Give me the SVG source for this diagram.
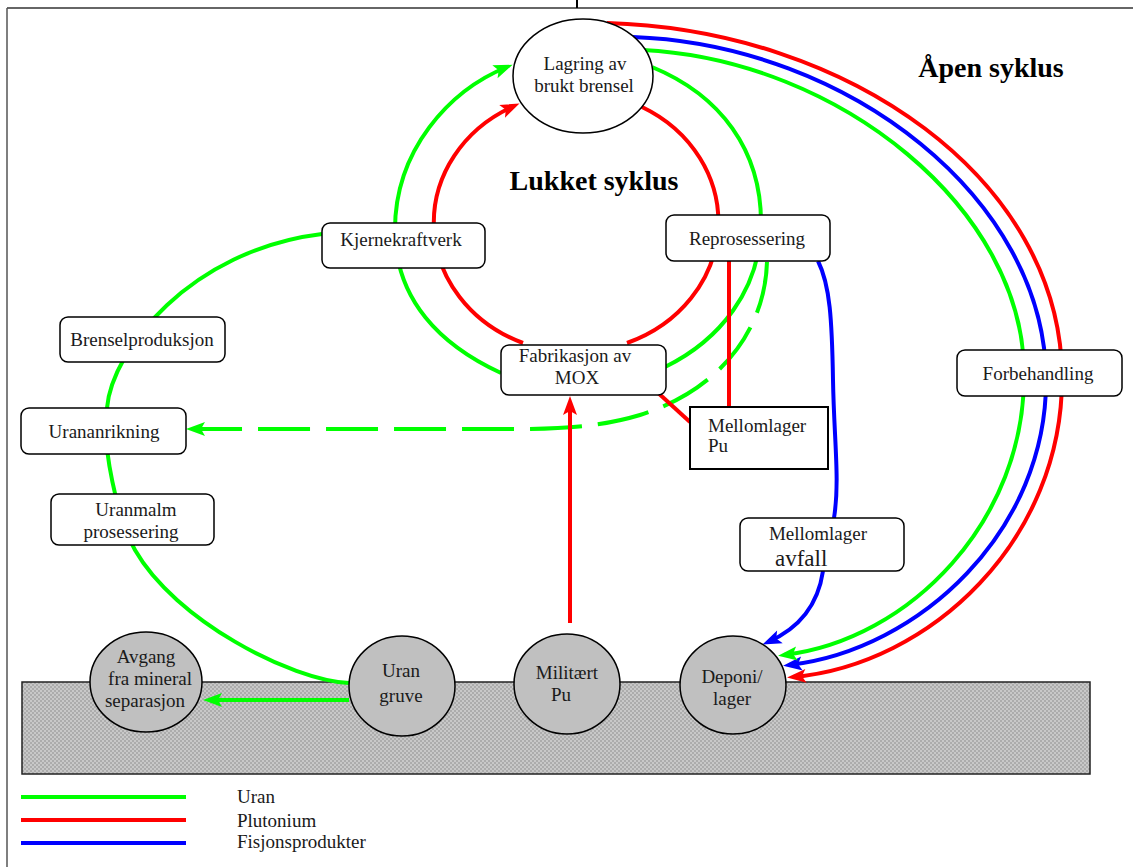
<svg xmlns="http://www.w3.org/2000/svg" width="1133" height="867" viewBox="0 0 1133 867">
<style>
  .lbl { font-family: "Liberation Serif", "Times New Roman", serif; font-size: 19px; fill: #1a1a1a; }
  .mid { text-anchor: middle; }
  .title { font-family: "Liberation Serif", "Times New Roman", serif; font-size: 28px; font-weight: bold; fill: #000; text-anchor: middle; }
  .box { fill: #fff; stroke: #000; stroke-width: 1.5; }
  .ell { fill: #fff; stroke: #000; stroke-width: 1.5; }
  .gell { fill: #c0c0c0; stroke: #000; stroke-width: 1.5; }
  .g { fill: none; stroke: #00ff00; stroke-width: 4; }
  .r { fill: none; stroke: #ff0000; stroke-width: 4; }
  .b { fill: none; stroke: #0000ff; stroke-width: 4; }
</style>
<defs>
  <pattern id="dots" x="0" y="0" width="4" height="4" patternUnits="userSpaceOnUse">
    <rect width="4" height="4" fill="#c8c8c8"/>
    <rect x="0.5" y="0.5" width="1" height="1" fill="#5a5a5a"/>
    <rect x="2.5" y="2.5" width="1" height="1" fill="#5a5a5a"/>
  </pattern>
  <marker id="ag" viewBox="-20 -10 28 20" refX="-6" refY="0" markerWidth="28" markerHeight="20" markerUnits="userSpaceOnUse" orient="auto">
    <path d="M0,0 L-19,-7 L-15,0 L-19,7 Z" fill="#00ff00"/>
  </marker>
  <marker id="ar" viewBox="-20 -10 28 20" refX="-6" refY="0" markerWidth="28" markerHeight="20" markerUnits="userSpaceOnUse" orient="auto">
    <path d="M0,0 L-19,-7 L-15,0 L-19,7 Z" fill="#ff0000"/>
  </marker>
  <marker id="ab" viewBox="-20 -10 28 20" refX="-6" refY="0" markerWidth="28" markerHeight="20" markerUnits="userSpaceOnUse" orient="auto">
    <path d="M0,0 L-19,-7 L-15,0 L-19,7 Z" fill="#0000ff"/>
  </marker>
</defs>

<rect width="1133" height="867" fill="#fff"/>

<!-- frame -->
<g id="frame">
  <line x1="7" y1="8" x2="1133" y2="8" stroke="#333" stroke-width="1.5"/>
  <line x1="7" y1="8" x2="7" y2="867" stroke="#555" stroke-width="1.5"/>
  <line x1="577" y1="0" x2="577" y2="8" stroke="#000" stroke-width="2"/>
</g>

<!-- ground -->
<rect id="ground" x="22" y="682" width="1068" height="92" fill="url(#dots)" stroke="#222" stroke-width="1.5"/>

<!-- connectors -->
<g id="connectors">
  <!-- outer green (fuel cycle) -->
  <path class="g" d="M349,683 C290,680 175,620 135,550 C118,520 101,445 107,408 C112,350 190,250 322,234"/>
  <!-- inner green loop -->
  <path class="g" d="M501,373 C440,345 396,300 395,232 C394,150 450,90 507,67" marker-end="url(#ag)"/>
  <path class="g" d="M652,67 C720,95 762,150 761,225 C760,290 720,340 665,367"/>
  <!-- inner red loop -->
  <path class="r" d="M523,343 A143.5,130 0 0 1 514,106" marker-end="url(#ar)"/>
  <path class="r" d="M642,107 A143.5,130 0 0 1 627,343"/>
  <!-- dashed green back to enrichment -->
  <path class="g" d="M767,262 C765,330 720,390 640,415 C600,427 560,429 520,429 L192,429" stroke-dasharray="52 16" marker-end="url(#ag)"/>
  <!-- red Pu paths -->
  <path class="r" d="M729,261 L729,406"/>
  <path class="r" d="M690,422 L656,391"/>
  <path class="r" d="M570,623 L570,402" marker-end="url(#ar)"/>
  <!-- blue fission products -->
  <path class="b" d="M818,261 C830,285 832,320 833,380 C834,440 840,480 834,518"/>
  <path class="b" d="M823,571 C818,605 800,628 768,642" marker-end="url(#ab)"/>
  <!-- open cycle -->
  <path class="r" d="M607,23 C850,30 1060,180 1062,375 C1064,540 930,665 793,677" marker-end="url(#ar)"/>
  <path class="b" d="M633,37 C850,45 1045,200 1046,378 C1048,530 920,650 789,665" marker-end="url(#ab)"/>
  <path class="g" d="M643,50 C840,60 1024,210 1024,373 C1026,520 910,640 784,655" marker-end="url(#ag)"/>
  <!-- uranium mine to tailings -->
  <path class="g" d="M349,700 L209,700" marker-end="url(#ag)"/>
</g>

<!-- nodes -->
<g id="lagring">
  <ellipse class="ell" cx="583" cy="76" rx="70" ry="57"/>
  <text class="lbl mid" x="585" y="70">Lagring av</text>
  <text class="lbl mid" x="584" y="92">brukt brensel</text>
</g>
<g id="kjernekraftverk">
  <rect class="box" x="322" y="223" width="163" height="45" rx="8"/>
  <text class="lbl mid" x="401" y="246">Kjernekraftverk</text>
</g>
<g id="reprosessering">
  <rect class="box" x="666" y="215" width="164" height="46" rx="8"/>
  <text class="lbl mid" x="747" y="245">Reprosessering</text>
</g>
<g id="brenselproduksjon">
  <rect class="box" x="60" y="317" width="165" height="45" rx="8"/>
  <text class="lbl mid" x="142" y="346">Brenselproduksjon</text>
</g>
<g id="urananrikning">
  <rect class="box" x="21" y="408" width="165" height="46" rx="8"/>
  <text class="lbl mid" x="104" y="438">Urananrikning</text>
</g>
<g id="uranmalm">
  <rect class="box" x="51" y="494" width="163" height="51" rx="8"/>
  <text class="lbl mid" x="136" y="516">Uranmalm</text>
  <text class="lbl mid" x="131" y="538">prosessering</text>
</g>
<g id="fabrikasjon">
  <rect class="box" x="501" y="345" width="165" height="50" rx="8"/>
  <text class="lbl mid" x="575" y="362">Fabrikasjon av</text>
  <text class="lbl mid" x="577" y="384">MOX</text>
</g>
<g id="mellomlager-pu">
  <rect x="690" y="407" width="138" height="62" fill="#fff" stroke="#000" stroke-width="2"/>
  <text class="lbl" x="708" y="432">Mellomlager</text>
  <text class="lbl" x="708" y="452">Pu</text>
</g>
<g id="forbehandling">
  <rect class="box" x="957" y="350" width="165" height="46" rx="8"/>
  <text class="lbl mid" x="1038" y="380">Forbehandling</text>
</g>
<g id="mellomlager-avfall">
  <rect class="box" x="740" y="518" width="164" height="53" rx="8"/>
  <text class="lbl mid" x="818" y="540">Mellomlager</text>
  <text class="lbl" x="775" y="566" style="font-size:23px">avfall</text>
</g>
<g id="avgang">
  <ellipse class="gell" cx="146" cy="682" rx="56" ry="50"/>
  <text class="lbl mid" x="146" y="663">Avgang</text>
  <text class="lbl mid" x="150" y="685">fra mineral</text>
  <text class="lbl mid" x="145" y="707">separasjon</text>
</g>
<g id="uran-gruve">
  <ellipse class="gell" cx="402" cy="686" rx="53" ry="50"/>
  <text class="lbl mid" x="401" y="677">Uran</text>
  <text class="lbl mid" x="401" y="702">gruve</text>
</g>
<g id="militaert-pu">
  <ellipse class="gell" cx="567" cy="684" rx="53" ry="50"/>
  <text class="lbl mid" x="567" y="679">Militært</text>
  <text class="lbl mid" x="561" y="701">Pu</text>
</g>
<g id="deponi">
  <ellipse class="gell" cx="733" cy="685" rx="53" ry="49"/>
  <text class="lbl mid" x="732" y="683">Deponi/</text>
  <text class="lbl mid" x="732" y="705">lager</text>
</g>

<!-- titles -->
<text class="title" x="594" y="190">Lukket syklus</text>
<text class="title" x="991" y="77">Åpen syklus</text>

<!-- legend -->
<g id="legend">
  <line x1="21" y1="797" x2="186" y2="797" stroke="#00ff00" stroke-width="4"/>
  <line x1="21" y1="820" x2="186" y2="820" stroke="#ff0000" stroke-width="4"/>
  <line x1="21" y1="843" x2="186" y2="843" stroke="#0000ff" stroke-width="4"/>
  <text class="lbl" x="237" y="803">Uran</text>
  <text class="lbl" x="237" y="827">Plutonium</text>
  <text class="lbl" x="237" y="848">Fisjonsprodukter</text>
</g>
</svg>
